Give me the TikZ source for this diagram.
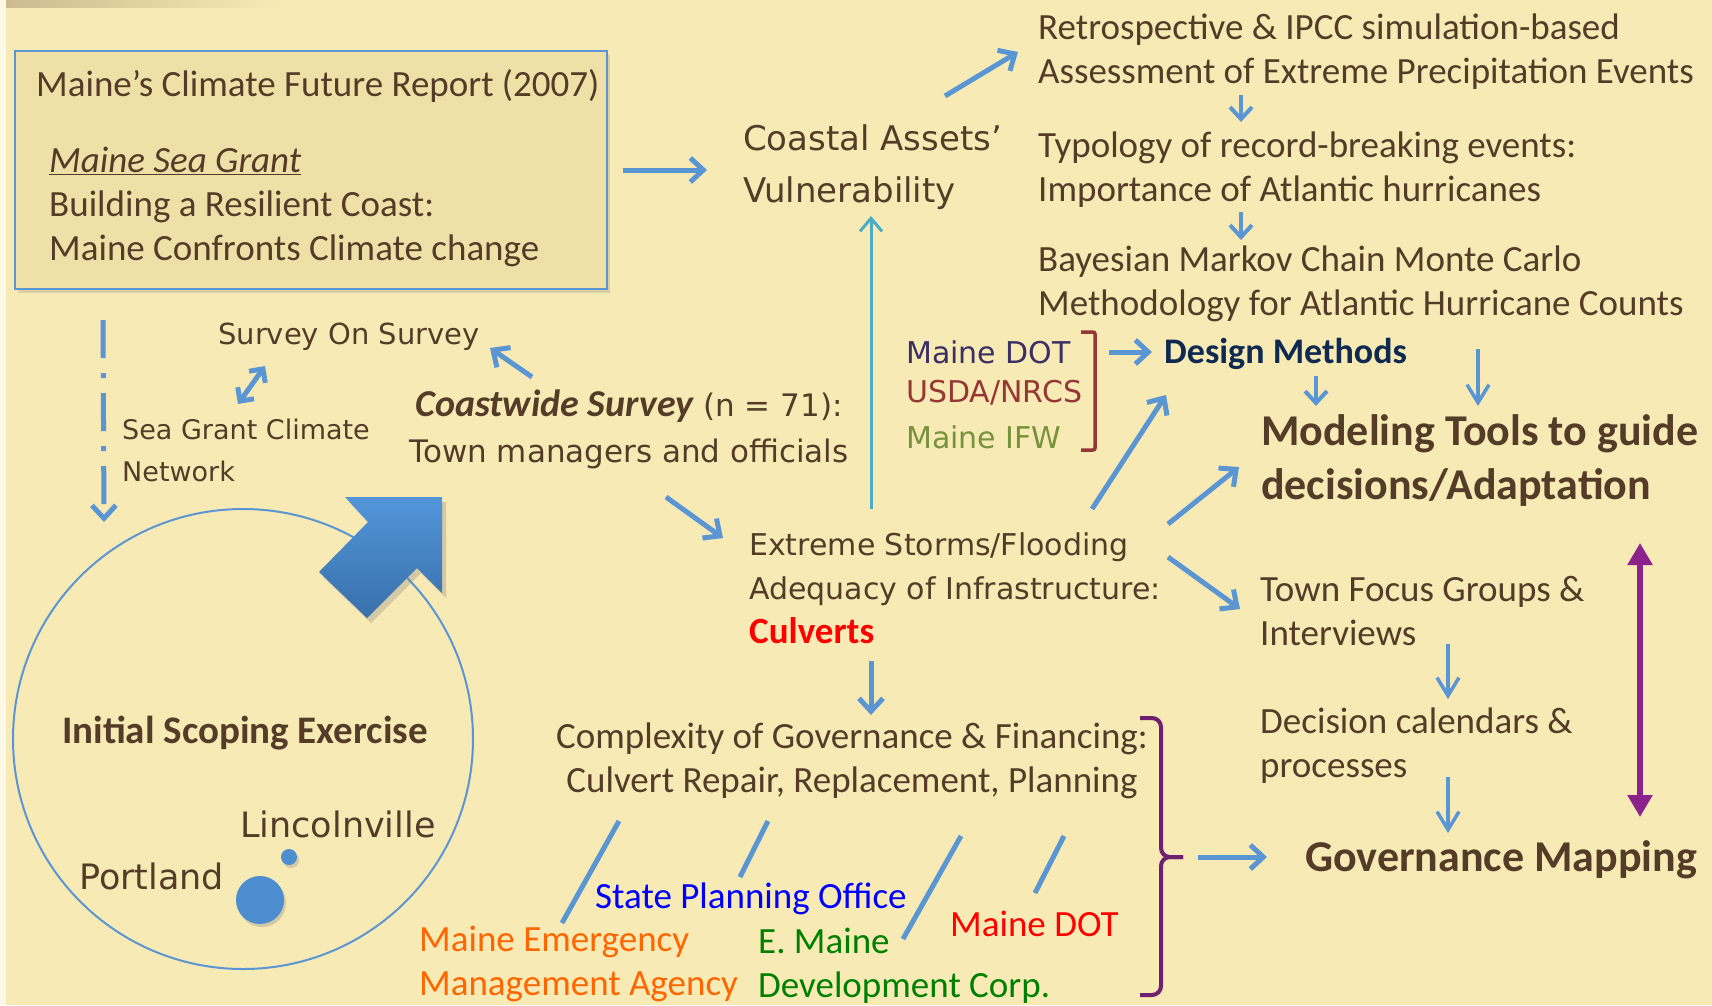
\documentclass[tikz,border=0pt]{standalone}
\usepackage{fontspec}
\setmainfont{Carlito}
\newfontfamily\lucida{DejaVu Sans}
\usepackage{tikz}
\usetikzlibrary{positioning,calc,arrows.meta,shadows,fadings}

\definecolor{bg}{RGB}{248,234,181}
\definecolor{boxfill}{RGB}{239,224,167}
\definecolor{txt}{RGB}{84,60,40}
\definecolor{arrblue}{RGB}{91,150,212}
\definecolor{skyblue}{RGB}{75,172,198}
\definecolor{bluehi}{RGB}{82,150,218}
\definecolor{bluelo}{RGB}{56,112,170}
\definecolor{bracepurple}{RGB}{112,32,112}
\definecolor{arrpurple}{RGB}{140,34,140}
\definecolor{dotnavy}{RGB}{58,48,100}
\definecolor{usdared}{RGB}{149,55,53}
\definecolor{ifwgreen}{RGB}{119,147,60}
\definecolor{designnavy}{RGB}{15,42,80}
\definecolor{emaorange}{RGB}{255,102,0}
\definecolor{edcgreen}{RGB}{0,128,0}

\tikzfading[name=fadeout right, left color=transparent!55, right color=transparent!100]

\tikzset{
  calib/.style={font=\fontsize{37}{44}\selectfont, text=txt, align=left, inner sep=0pt, anchor=west},
  calibbold/.style={font=\bfseries\fontsize{44}{54}\selectfont, text=txt, align=left, inner sep=0pt, anchor=west},
  lucid/.style 2 args={font=\lucida\fontsize{#1}{#2}\selectfont, text=txt, align=left, inner sep=0pt, anchor=west},
  reportbox/.style={draw=arrblue, line width=2pt, fill=boxfill, inner sep=0pt,
    drop shadow={opacity=0.25, shadow xshift=3pt, shadow yshift=-4pt}},
  dotball/.style={circle, inner sep=0pt, fill=bluehi!80!bluelo,
    drop shadow={opacity=0.3, shadow xshift=2pt, shadow yshift=-3pt}},
  bigarr/.style={draw=arrblue, line width=5pt, -{Straight Barb[length=13pt,width=24pt]}},
  smallarr/.style={draw=arrblue, line width=4pt, -{Straight Barb[length=12pt,width=22pt]}},
  thinarr/.style={draw=arrblue, line width=3.5pt, -{Straight Barb[length=18pt,width=22pt]}},
  link/.style={draw=arrblue, line width=5pt}
}

\begin{document}
\begin{tikzpicture}[x=1pt,y=-1pt]
  % Page background
  \useasboundingbox (0,0) rectangle (1712,1005);
  \fill[bg] (0,0) rectangle (1712,1005);
  \fill[bg!35!white] (0,0) rectangle (6,1005);
  \fill[txt!60!bg, path fading=fadeout right] (6,0) rectangle (280,8);

  % Report box top left
  \node[reportbox, minimum width=592pt, minimum height=238pt] (report) at (311,170) {};
  \node[calib] (cfr) at (36,86) {Maine’s Climate Future Report (2007)};
  \node[calib] (grant) at (49,207) {\underline{\textit{Maine Sea Grant}}\\Building a Resilient Coast:\\Maine Confronts Climate change};

  % Scoping circle with the big arrow
  \node[circle, draw=arrblue, line width=2pt, minimum size=460pt, inner sep=0pt] (scoping) at (243,739) {};
  \path[top color=bluehi, bottom color=bluelo, drop shadow={opacity=0.3, shadow xshift=4pt, shadow yshift=-5pt}]
    (319,572) -- (368,522) -- (345,497) -- (442,497) -- (442,593) -- (417,568) -- (367,618) -- cycle;
  \node[calib, font=\bfseries\fontsize{39}{46}\selectfont, anchor=center] (ise) at (245,733) {Initial Scoping Exercise};
  \node[lucid={35}{42}] (lincoln) at (240,824) {Lincolnville};
  \node[lucid={35}{42}] (portland) at (79,876) {Portland};
  \node[dotball, minimum size=16pt] (smalldot) at (289,857) {};
  \node[dotball, minimum size=48pt] (bigdot) at (260,900) {};

  % Survey nodes
  \node[lucid={29}{36}] (sos) at (218,337) {Survey On Survey};
  \node[lucid={27}{42}] (sgcn) at (122,450) {Sea Grant Climate\\Network};
  \node[lucid={31}{46}, align=center, anchor=center] (coastwide) at (629,429)
    {{\rmfamily\fontsize{38}{46}\selectfont\bfseries\itshape Coastwide Survey} (n = 71):\\Town managers and officials};
  \node[lucid={34}{52}] (coastal) at (743,167) {Coastal Assets’\\Vulnerability};
  \node[lucid={30}{44}] (storms) at (749,588) {Extreme Storms/Flooding\\Adequacy of Infrastructure:\\{\rmfamily\fontsize{37}{44}\selectfont\bfseries\color{red}Culverts}};

  % Precipitation chain
  \node[calib] (retro) at (1038,52) {Retrospective \& IPCC simulation-based\\Assessment of Extreme Precipitation Events};
  \node[calib] (typo) at (1038,170) {Typology of record-breaking events:\\Importance of Atlantic hurricanes};
  \node[calib] (bayes) at (1038,284) {Bayesian Markov Chain Monte Carlo\\Methodology for Atlantic Hurricane Counts};

  % Agencies behind the design methods
  \node[lucid={30}{40}, text=dotnavy] (dot) at (906,352) {Maine DOT};
  \node[lucid={30}{40}, text=usdared] (usda) at (906,393) {USDA/NRCS};
  \node[lucid={30}{40}, text=ifwgreen] (ifw) at (906,437) {Maine IFW};
  \draw[usdared, line width=3.5pt, rounded corners=2pt] ($(dot.west)+(175,-20)$) -- ++(14,0) -- ++(0,118) -- ++(-14,0);
  \node[calib, font=\bfseries\fontsize{36}{44}\selectfont, text=designnavy] (design) at (1164,354) {Design Methods};
  \node[calibbold] (modeling) at (1261,461) {Modeling Tools to guide\\decisions/Adaptation};

  % Right column
  \node[calib] (town) at (1260,611) {Town Focus Groups \&\\Interviews};
  \node[calib] (decision) at (1260,746) {Decision calendars \&\\processes};
  \node[calibbold] (governance) at (1305,860) {Governance Mapping};

  % Governance block and agencies
  \node[calib, align=center, anchor=center] (complexity) at (852,761) {Complexity of Governance \& Financing:\\Culvert Repair, Replacement, Planning};
  \node[calib, text=blue] (spo) at (595,899) {State Planning Office};
  \node[calib, text=emaorange] (mema) at (419,964) {Maine Emergency\\Management Agency};
  \node[calib, text=edcgreen] (emdc) at (758,966) {E. Maine\\Development Corp.};
  \node[calib, text=red] (mdot) at (950,924) {Maine DOT};

  % Purple brace
  \coordinate (bracetip) at (1183,857);
  \draw[bracepurple, line width=4pt, rounded corners=9pt] (1140,718) -- (1161,718) -- (1161,857) -- (bracetip);
  \draw[bracepurple, line width=4pt, rounded corners=9pt] (bracetip) -- (1161,857) -- (1161,995) -- (1140,995);

  % Arrows
  \draw[bigarr, shorten <=15pt] (report.east) -- ($(coastal.west)+(-36,3)$);
  \draw[bigarr] ($(coastal.west)+(202,-71)$) -- ($(retro.west)+(-20,0)$);
  \draw[smallarr] ($(retro.west)+(203,43)$) -- ($(typo.west)+(203,-48)$);
  \draw[smallarr] ($(typo.west)+(203,42)$) -- ($(bayes.west)+(203,-44)$);
  \draw[bigarr] ($(dot.west)+(203,0)$) -- ($(design.west)+(-12,-2)$);
  \draw[smallarr] ($(design.west)+(152,22)$) -- ($(modeling.west)+(55,-55)$);
  \draw[thinarr] ($(bayes.west)+(440,65)$) -- ($(modeling.west)+(217,-55)$);
  \draw[bigarr] ($(coastwide.center)+(-97,-52)$) -- ($(sos.west)+(272,11)$);
  \draw[draw=arrblue, line width=5pt, {Straight Barb[length=10pt,width=20pt]}-{Straight Barb[length=10pt,width=20pt]}]
    ($(sgcn.west)+(116,-46)$) -- ($(sos.west)+(47,29)$);
  \draw[bigarr, dash pattern=on 38pt off 15pt on 5pt off 15pt] ($(report.south west)+(89,30)$) -- ($(scoping.center)+(-139,-217)$);
  \draw[bigarr] ($(coastwide.center)+(37,68)$) -- ($(storms.west)+(-26,-50)$);
  \draw[draw=skyblue, line width=3pt, -{Straight Barb[length=13pt,width=22pt]}] ($(storms.west)+(122,-79)$) -- ($(coastal.west)+(128,49)$);
  \draw[bigarr] ($(storms.west)+(343,-79)$) -- ($(design.west)+(2,41)$);
  \draw[bigarr] ($(storms.west)+(419,-64)$) -- ($(modeling.west)+(-22,6)$);
  \draw[bigarr] ($(storms.west)+(419,-31)$) -- ($(town.west)+(-20,-2)$);
  \draw[bigarr] ($(storms.west)+(122,73)$) -- ($(complexity.center)+(19,-46)$);
  \draw[bigarr, shorten <=15pt] (bracetip) -- ($(governance.west)+(-38,-3)$);
  \draw[thinarr] ($(town.west)+(188,33)$) -- ($(decision.west)+(188,-47)$);
  \draw[thinarr] ($(decision.west)+(188,31)$) -- ($(governance.west)+(143,-27)$);
  \draw[draw=arrpurple, line width=6pt, {Triangle[length=22pt,width=24pt]}-{Triangle[length=22pt,width=24pt]}]
    ($(modeling.west)+(379,82)$) -- ($(governance.west)+(335,-43)$);

  % Lines to the agencies
  \draw[link] ($(complexity.center)+(-233,60)$) -- ($(mema.west)+(143,-41)$);
  \draw[link] ($(complexity.center)+(-84,60)$) -- ($(spo.west)+(145,-22)$);
  \draw[link] ($(complexity.center)+(109,75)$) -- ($(emdc.west)+(145,-27)$);
  \draw[link] ($(complexity.center)+(212,75)$) -- ($(mdot.west)+(85,-31)$);
\end{tikzpicture}
\end{document}
